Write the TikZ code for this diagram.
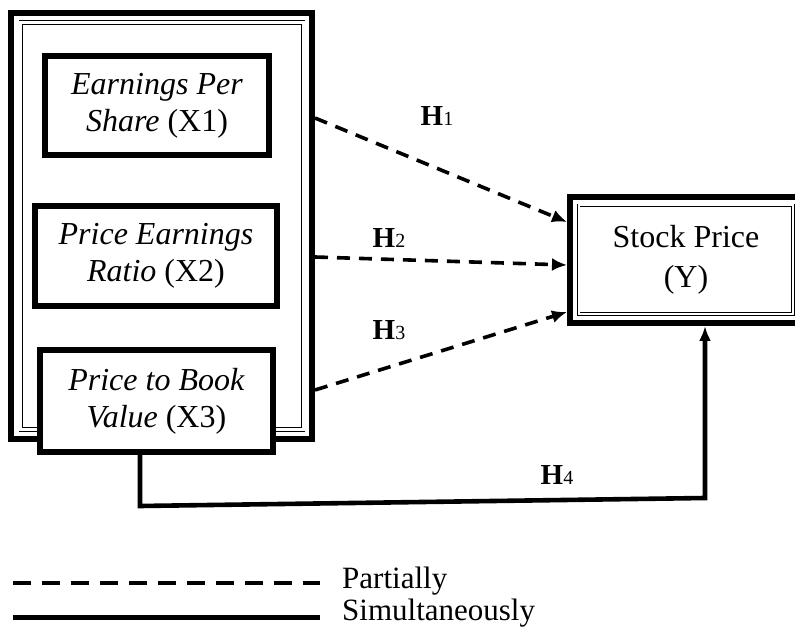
\documentclass[tikz,border=0pt]{standalone}
\usepackage{fontspec}
\setmainfont{Liberation Serif}
\usetikzlibrary{calc,arrows.meta}

\begin{document}
\begin{tikzpicture}[x=1pt, y=1pt,
    varbox/.style={draw, line width=5.5pt, fill=white, align=center, inner sep=0pt,
      font=\fontsize{32}{37}\selectfont},
    partarrow/.style={line width=3.6pt, dash pattern=on 13pt off 9pt, -{Latex[length=15pt,width=13pt]}},
    simularrow/.style={line width=4.6pt, -{Latex[length=15pt,width=12pt]}},
    hyplabel/.style={font=\fontsize{29}{32}\selectfont}]
    \useasboundingbox (0,0) rectangle (795,627);

    % Outer group of independent variables
    \node[draw, line width=6pt, minimum width=301pt, minimum height=426pt, inner sep=0pt] (Group) at (161.5,401) {};
    \draw[double, line width=0.8pt, double distance=3pt] (20.8,604.2) rectangle (303,197.5);% inner double frame

    \node[varbox, minimum width=224pt, minimum height=99pt]  (EPS) at (157,521.5) {\textit{Earnings Per}\\\textit{Share} (X1)};
    \node[varbox, minimum width=242pt, minimum height=100pt] (PER) at (156,371)   {\textit{Price Earnings}\\\textit{Ratio} (X2)};
    \node[varbox, minimum width=233pt, minimum height=102pt] (PBV) at (156.5,226) {\textit{Price to Book}\\\textit{Value} (X3)};

    % Dependent variable (cut by the right edge)
    \node[draw, line width=6pt, minimum width=230pt, minimum height=126pt, inner sep=0pt] (Stock) at (685,367) {};
    \draw[double, line width=0.8pt, double distance=2pt] (578.5,421.5) rectangle (793,313);
    \node[font=\fontsize{32}{40}\selectfont, align=center] (StockText) at (686,367) {Stock Price\\(Y)};

    % Partial hypotheses
    \draw[partarrow] ([yshift=108pt]Group.east) -- ([yshift=38pt]Stock.west);
    \draw[partarrow] ([yshift=-31pt]Group.east) -- ([yshift=-5pt]Stock.west);
    \draw[partarrow] ([yshift=-164pt]Group.east) -- ([yshift=-52pt]Stock.west);
    \node[hyplabel] (H1) at (437,511) {\textbf{H}{\fontsize{20}{22}\selectfont 1}};
    \node[hyplabel] (H2) at (389,389) {\textbf{H}{\fontsize{20}{22}\selectfont 2}};
    \node[hyplabel] (H3) at (389,297) {\textbf{H}{\fontsize{20}{22}\selectfont 3}};

    % Simultaneous hypothesis (bottom line slightly slanted)
    \coordinate (CornerL) at (140,121);
    \coordinate (CornerR) at (705,129);
    \draw[simularrow] ([xshift=-16.5pt]PBV.south) -- (CornerL) -- (CornerR) -- ([xshift=20pt]Stock.south);
    \node[hyplabel] (H4) at (557,152) {\textbf{H}{\fontsize{20}{22}\selectfont 4}};

    % Legend
    \node[anchor=west, inner sep=0pt, font=\fontsize{31}{37}\selectfont] (Partial) at (342,46) {Partially};
    \node[anchor=west, inner sep=0pt, font=\fontsize{31}{37}\selectfont] (Simul) at (342,14) {Simultaneously};
    \coordinate (PartStart) at (13,44);
    \coordinate (SimulStart) at (13,10);
    \draw[line width=4.5pt, dash pattern=on 18pt off 11pt] (PartStart) -- ([xshift=-22pt,yshift=-2pt]Partial.west);
    \draw[line width=5pt] (SimulStart) -- ([xshift=-22pt,yshift=-4pt]Simul.west);
\end{tikzpicture}
\end{document}
